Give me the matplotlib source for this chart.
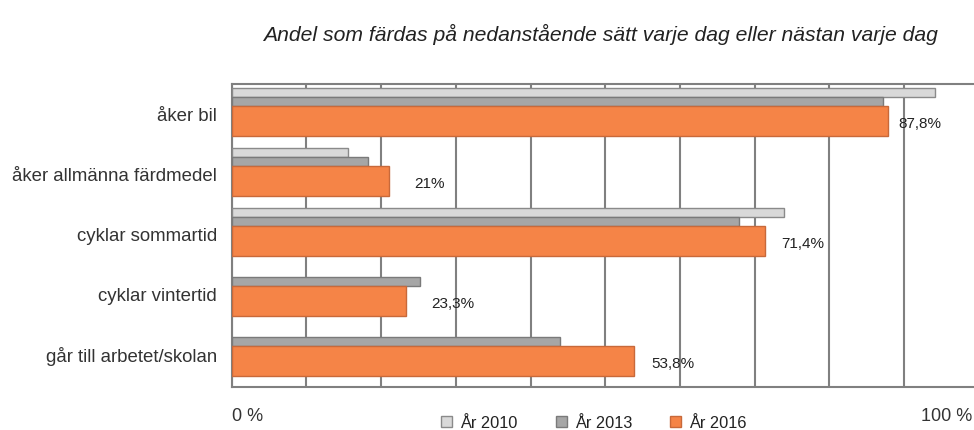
import numpy as np
import matplotlib.pyplot as plt
from matplotlib.patches import Patch

plt.rcParams['font.family'] = ['Liberation Sans', 'DejaVu Sans']

categories = ['åker bil', 'åker allmänna färdmedel', 'cyklar sommartid',
              'cyklar vintertid', 'går till arbetet/skolan']
year_labels = ['År 2010', 'År 2013', 'År 2016']
v2010 = [94.1, 15.6, 74.0, np.nan, np.nan]
v2013 = [87.2, 18.2, 67.9, 25.2, 44.0]
v2016 = [87.8, 21.0, 71.4, 23.3, 53.8]
title = 'Andel som färdas på nedanstående sätt varje dag eller nästan varje dag'

grey_light = '#d9d9d9'
grey_dark = '#a6a6a6'
orange = '#f58447'
line_col = '#808080'
text_col = '#333333'

fig = plt.figure(figsize=(9.74, 4.31), dpi=100)
ax = fig.add_axes([231.7 / 974, 1 - 387.7 / 431, 747 / 974, 303 / 431])

pos = np.arange(len(categories))

def draw(vals, off, h, color, edge, z):
    vals = np.array(vals, dtype=float)
    ok = ~np.isnan(vals)
    ax.barh(pos[ok] + off, vals[ok], height=h, color=color,
            edgecolor=edge, linewidth=1.0, zorder=z)

draw(v2010, -0.358, 0.14, grey_light, '#8a8a8a', 3)
draw(v2013, -0.208, 0.16, grey_dark, '#7a7a7a', 4)
draw(v2016, 0.117, 0.49, orange, '#c8693a', 5)

# value labels for 2016
pads = [11, 26, 16, 25, 18]
for i, v in enumerate(v2016):
    txt = (f'{v:.0f}%' if v == int(v) else f'{v:.1f}%').replace('.', ',')
    ax.annotate(txt, (v, pos[i] + 0.117), xytext=(pads[i] * 0.72, -1.5),
                textcoords='offset points', va='center', ha='left',
                fontsize=11, color='#222222', zorder=6)

ax.set_xlim(0, 100)
ax.set_ylim(4.545, -0.505)
ax.set_xticks(np.arange(0, 101, 10))
ax.set_xticklabels([])
ax.xaxis.grid(True, color=line_col, linewidth=1.5, zorder=1)
ax.set_axisbelow(True)
ax.tick_params(axis='x', length=0)
ax.set_yticks(pos)
ax.set_yticklabels(categories, fontsize=13.4, color=text_col)
ax.tick_params(axis='y', length=0, pad=10.5)
for s in ax.spines.values():
    s.set_color(line_col)
    s.set_linewidth(1.5)

fig.text(600 / 974, 1 - 34 / 431, title, ha='center', va='center',
         fontsize=15.2, style='italic', color='#222222')
fig.text(232 / 974, 1 - 417 / 431, '0 %', ha='left', va='center',
         fontsize=13, color=text_col)
fig.text(972 / 974, 1 - 417 / 431, '100 %', ha='right', va='center',
         fontsize=13, color=text_col)

handles = [Patch(facecolor=grey_light, edgecolor='#8a8a8a'),
           Patch(facecolor=grey_dark, edgecolor='#7a7a7a'),
           Patch(facecolor=orange, edgecolor='#c8693a')]
fig.legend(handles, year_labels, loc='center', bbox_to_anchor=(594 / 974, 1 - 424 / 431),
           ncol=3, frameon=False, fontsize=11.8, handlelength=0.68, handleheight=0.68,
           handletextpad=0.5, columnspacing=2.3, borderpad=0, labelcolor='#222222')

fig.savefig('out.png', dpi=100)
